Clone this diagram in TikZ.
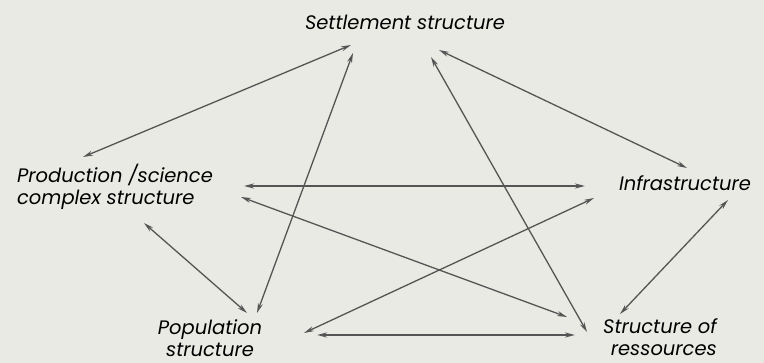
\documentclass[tikz,border=0pt]{standalone}
\usepackage{fontspec}
\setmainfont{Poppins}
\usetikzlibrary{positioning, arrows.meta}

\definecolor{paper}{RGB}{234,234,228}
\definecolor{ink}{RGB}{85,85,85}
\definecolor{label}{RGB}{110,110,110}

\begin{document}
\begin{tikzpicture}[
    x=1pt, y=-1pt,
    >={Stealth[length=10pt, width=5pt]},
    link/.style={<->, ink, line width=1.3pt},
    boldlink/.style={<->, ink, line width=1.8pt},
    box/.style={inner sep=0pt, label, font=\fontsize{19.5}{22}\selectfont\itshape}
]

    % --- 1. background ---
    \fill [paper] (0,0) rectangle (764,363);
    \useasboundingbox (0,0) rectangle (764,363);

    % --- 2. labels ---
    \node [box, text=black] (set) at (405,22) {Settlement structure};
    \node [box, align=left] (prod) at (115,187) {Production /science\\complex structure};
    \node [box] (infra) at (685,183) {Infrastructure};
    \node [box, align=center] (pop) at (210,338) {Population\\structure};
    \node [box, align=right] (res) at (660,337) {Structure of\\ressources};

    % --- 3. links from settlement ---
    \draw [link] ([shift={(-54,23)}]set.center) -- ([shift={(-32,-30)}]prod.center);
    \draw [link] ([shift={(-52,31)}]set.center) -- ([shift={(47,-25)}]pop.center);
    \draw [link] ([shift={(26,35)}]set.center) -- ([shift={(-73,-5)}]res.center);
    \draw [link] ([shift={(34,28)}]set.center) -- ([shift={(2,-15)}]infra.center);

    % --- 4. links from production ---
    \draw [boldlink] ([shift={(129,-1)}]prod.center) -- ([shift={(-100,3)}]infra.center);
    \draw [link] ([shift={(126,10)}]prod.center) -- ([shift={(-93,-20)}]res.center);
    \draw [link] ([shift={(29,36)}]prod.center) -- ([shift={(37,-25)}]pop.center);

    % --- 5. remaining links ---
    \draw [link] ([shift={(-91,15)}]infra.center) -- ([shift={(94,-5)}]pop.center);
    \draw [link] ([shift={(43,17)}]infra.center) -- ([shift={(-40,-23)}]res.center);
    \draw [boldlink] ([shift={(107,-3)}]pop.center) -- ([shift={(-85,-2)}]res.center);

\end{tikzpicture}
\end{document}
